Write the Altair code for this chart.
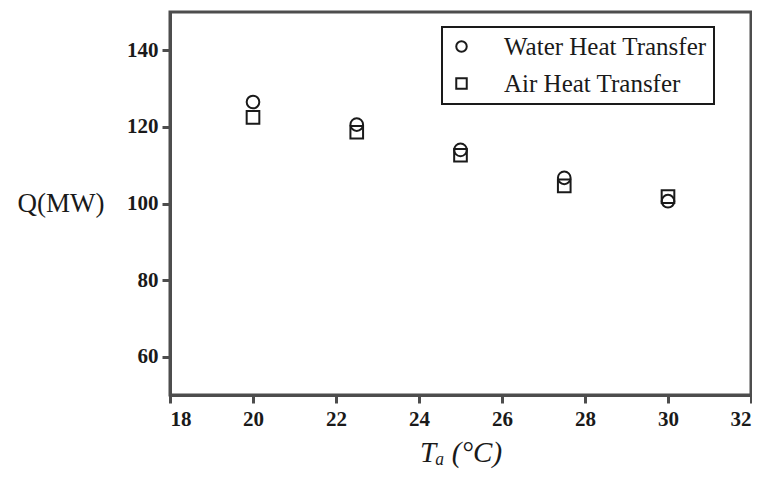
import altair as alt
import pandas as pd

temps = [20, 22.5, 25, 27.5, 30]
water_q = [126.5, 120.6, 114.0, 106.7, 100.6]
air_q = [122.5, 118.6, 112.6, 104.6, 101.8]
series_names = ["Water Heat Transfer", "Air Heat Transfer"]
x_ticks = [18, 20, 22, 24, 26, 28, 30, 32]
y_ticks = [60, 80, 100, 120, 140]

rows = []
for t, q in zip(temps, air_q):
    rows.append({"Ta": t, "Q": q, "series": series_names[1]})
for t, q in zip(temps, water_q):
    rows.append({"Ta": t, "Q": q, "series": series_names[0]})
df = pd.DataFrame(rows)

serif = "Liberation Serif"
grey = "#4d4d4d"

chart = alt.Chart(df).mark_point(filled=False, size=160, strokeWidth=2, color="#1a1a1a", opacity=1).encode(
    x=alt.X("Ta:Q", scale=alt.Scale(domain=[18, 32], nice=False, zero=False),
            axis=alt.Axis(values=x_ticks, title="Tₐ (°C)", grid=False, tickSize=8,
                          labelPadding=5, titleFontStyle="italic", titleFontWeight="normal",
                          titleFontSize=29, titlePadding=9)),
    y=alt.Y("Q:Q", scale=alt.Scale(domain=[50, 150], nice=False, zero=False),
            axis=alt.Axis(values=y_ticks, title="Q(MW)", grid=False, tickSize=8,
                          labelPadding=4, titleAngle=0, titleAlign="right",
                          titleBaseline="middle", titleX=-66, titleY=191,
                          titleFontSize=27, titleFontWeight="normal")),
    shape=alt.Shape("series:N", scale=alt.Scale(domain=series_names, range=["circle", "square"]),
                    legend=alt.Legend(title=None, orient="none", legendX=272, legendY=15,
                                      direction="vertical", symbolSize=110, symbolStrokeWidth=2,
                                      symbolStrokeColor="#1a1a1a", symbolFillColor="transparent",
                                      labelFont=serif, labelFontSize=25, labelColor="#1a1a1a",
                                      labelOffset=30, rowPadding=11, padding=7,
                                      strokeColor="#1a1a1a", fillColor="white", labelLimit=400)),
).properties(
    width=581, height=383,
    autosize=alt.AutoSizeParams(type="none"),
    padding={"left": 162, "top": 4, "right": 1, "bottom": 76},
).configure_view(
    stroke=grey, strokeWidth=3, fill="white"
).configure_axis(
    domainColor=grey, domainWidth=3, tickColor=grey, tickWidth=3,
    labelFont=serif, labelFontWeight="bold", labelFontSize=21, labelColor="#1a1a1a",
    titleFont=serif, titleColor="#1a1a1a",
).configure_legend(
    strokeWidth=2
)

chart.save("out.html", embed_options={"renderer": "svg", "actions": False})
